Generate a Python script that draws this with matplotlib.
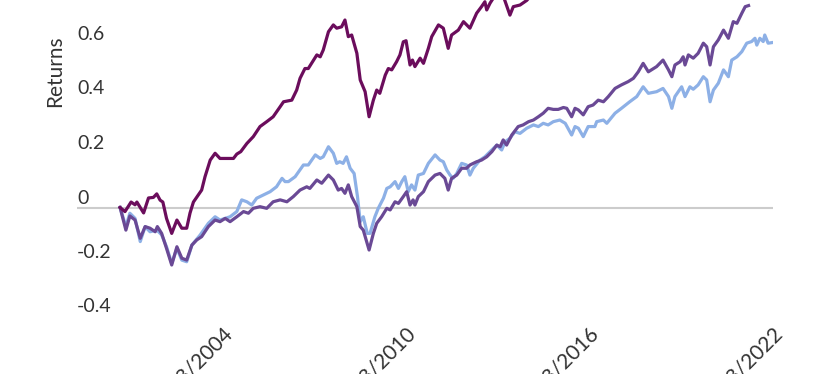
import matplotlib
matplotlib.use("Agg")
import matplotlib.pyplot as plt
import matplotlib.transforms as mtransforms

plt.rcParams['font.family'] = ['Lato', 'DejaVu Sans']

# ---- data (decimal years, cumulative returns) ----
years_a = [2000.72, 2000.88, 2001.08, 2001.21, 2001.27, 2001.49, 2001.65, 2001.81, 2001.92, 2002.03,
           2002.12, 2002.24, 2002.41, 2002.58, 2002.74, 2002.90, 2003.01, 2003.12, 2003.39, 2003.50,
           2003.67, 2003.83, 2003.99, 2004.43, 2004.54, 2004.67, 2004.87, 2005.08, 2005.30, 2005.52,
           2005.73, 2005.96, 2006.07, 2006.34, 2006.50, 2006.61, 2006.77, 2006.88, 2007.16, 2007.27,
           2007.37, 2007.54, 2007.70, 2007.81, 2007.97, 2008.08, 2008.19, 2008.30, 2008.47, 2008.58,
           2008.74, 2008.87, 2009.01, 2009.12, 2009.22, 2009.40, 2009.50, 2009.61, 2009.77, 2009.88,
           2009.99, 2010.08, 2010.21, 2010.29, 2010.37, 2010.54, 2010.65, 2010.81, 2010.92, 2011.14,
           2011.30, 2011.46, 2011.57, 2011.79, 2011.96, 2012.17, 2012.39, 2012.55, 2012.66, 2012.72,
           2012.83, 2013.06, 2013.25, 2013.48, 2013.59, 2013.81, 2014.03, 2014.50, 2015.50, 2016.50,
           2017.50, 2018.50, 2019.50, 2020.20, 2021.00, 2021.90]
returns_a = [0.0, -0.015, 0.02, 0.01, 0.02, -0.02, 0.035, 0.037, 0.05, 0.027,
             0.02, -0.04, -0.095, -0.046, -0.076, -0.076, -0.02, 0.02, 0.064, 0.113,
             0.174, 0.199, 0.18, 0.18, 0.196, 0.205, 0.235, 0.26, 0.297, 0.315,
             0.333, 0.37, 0.388, 0.394, 0.431, 0.474, 0.51, 0.51, 0.56, 0.553,
             0.578, 0.645, 0.67, 0.658, 0.663, 0.688, 0.627, 0.633, 0.566, 0.468,
             0.425, 0.333, 0.394, 0.431, 0.419, 0.486, 0.51, 0.505, 0.535, 0.56,
             0.608, 0.612, 0.523, 0.541, 0.517, 0.548, 0.529, 0.584, 0.627, 0.67,
             0.658, 0.584, 0.633, 0.651, 0.682, 0.658, 0.713, 0.737, 0.755, 0.725,
             0.75, 0.79, 0.78, 0.706, 0.737, 0.743, 0.76, 0.82, 0.86, 0.92,
             1.0, 1.03, 1.12, 1.02, 1.25, 1.35]

years_b = [2000.72, 2000.91, 2001.04, 2001.21, 2001.38, 2001.54, 2001.70, 2001.92, 2002.08, 2002.24,
           2002.41, 2002.58, 2002.74, 2002.90, 2003.07, 2003.34, 2003.61, 2003.83, 2003.99, 2004.32,
           2004.54, 2004.70, 2004.87, 2005.03, 2005.19, 2005.41, 2005.63, 2005.84, 2006.02, 2006.12,
           2006.23, 2006.45, 2006.72, 2006.88, 2007.11, 2007.27, 2007.37, 2007.54, 2007.70, 2007.81,
           2007.91, 2008.02, 2008.13, 2008.25, 2008.38, 2008.49, 2008.58, 2008.68, 2008.81, 2008.90,
           2009.06, 2009.17, 2009.34, 2009.45, 2009.56, 2009.72, 2009.83, 2009.94, 2010.04, 2010.15,
           2010.26, 2010.37, 2010.48, 2010.65, 2010.81, 2011.03, 2011.19, 2011.30, 2011.41, 2011.52,
           2011.62, 2011.74, 2011.90, 2012.06, 2012.17, 2012.28, 2012.50, 2012.66, 2012.83, 2013.05,
           2013.21, 2013.32, 2013.48, 2013.64, 2013.81, 2014.03, 2014.25, 2014.41, 2014.57, 2014.73,
           2014.90, 2015.11, 2015.29, 2015.50, 2015.61, 2015.72, 2015.88, 2016.04, 2016.26, 2016.32,
           2016.54, 2016.65, 2016.92, 2017.13, 2017.40, 2017.63, 2017.84, 2018.01, 2018.28, 2018.49,
           2018.67, 2018.78, 2018.88, 2019.10, 2019.21, 2019.37, 2019.48, 2019.64, 2019.81, 2019.92,
           2020.03, 2020.14, 2020.30, 2020.47, 2020.63, 2020.74, 2020.91, 2021.07, 2021.23, 2021.39,
           2021.50, 2021.56, 2021.66, 2021.77, 2021.82, 2021.93, 2022.05]
returns_b = [0.0, -0.07, -0.021, -0.04, -0.125, -0.07, -0.089, -0.083, -0.1, -0.144,
             -0.205, -0.15, -0.193, -0.199, -0.138, -0.101, -0.058, -0.034, -0.046, -0.034,
             -0.015, 0.028, 0.021, 0.009, 0.034, 0.046, 0.058, 0.076, 0.107, 0.095,
             0.095, 0.113, 0.156, 0.156, 0.193, 0.18, 0.186, 0.223, 0.199, 0.162,
             0.168, 0.162, 0.186, 0.144, 0.125, 0.04, -0.052, -0.034, -0.095, -0.095,
             -0.034, -0.003, 0.034, 0.07, 0.076, 0.095, 0.07, 0.095, 0.113, 0.058,
             0.083, 0.064, 0.119, 0.125, 0.162, 0.193, 0.174, 0.168, 0.138, 0.119,
             0.107, 0.125, 0.162, 0.156, 0.119, 0.144, 0.174, 0.186, 0.205, 0.229,
             0.211, 0.241, 0.254, 0.278, 0.272, 0.291, 0.303, 0.297, 0.309, 0.303,
             0.315, 0.321, 0.309, 0.266, 0.297, 0.291, 0.26, 0.297, 0.297, 0.315,
             0.321, 0.309, 0.346, 0.364, 0.388, 0.407, 0.443, 0.419, 0.425, 0.437,
             0.407, 0.364, 0.407, 0.443, 0.407, 0.443, 0.434, 0.45, 0.48, 0.468,
             0.388, 0.431, 0.456, 0.505, 0.48, 0.541, 0.553, 0.572, 0.603, 0.609,
             0.621, 0.596, 0.621, 0.609, 0.633, 0.603, 0.605]

years_c = [2000.72, 2000.91, 2001.04, 2001.21, 2001.38, 2001.54, 2001.70, 2001.87, 2001.94, 2002.08,
           2002.24, 2002.41, 2002.58, 2002.74, 2002.90, 2003.07, 2003.23, 2003.39, 2003.61, 2003.83,
           2003.99, 2004.16, 2004.32, 2004.54, 2004.76, 2004.92, 2005.08, 2005.30, 2005.52, 2005.73,
           2005.96, 2006.18, 2006.39, 2006.61, 2006.83, 2006.93, 2007.16, 2007.32, 2007.54, 2007.70,
           2007.86, 2007.97, 2008.08, 2008.19, 2008.30, 2008.47, 2008.58, 2008.68, 2008.87, 2009.01,
           2009.12, 2009.28, 2009.45, 2009.56, 2009.72, 2009.83, 2009.99, 2010.10, 2010.21, 2010.31,
           2010.37, 2010.48, 2010.65, 2010.81, 2011.03, 2011.19, 2011.35, 2011.46, 2011.57, 2011.74,
           2011.90, 2012.06, 2012.17, 2012.39, 2012.55, 2012.72, 2012.89, 2013.05, 2013.16, 2013.26,
           2013.37, 2013.54, 2013.75, 2013.91, 2014.09, 2014.25, 2014.41, 2014.57, 2014.73, 2014.90,
           2015.06, 2015.23, 2015.34, 2015.50, 2015.61, 2015.72, 2015.88, 2016.04, 2016.20, 2016.37,
           2016.54, 2016.70, 2016.92, 2017.13, 2017.35, 2017.52, 2017.68, 2017.84, 2018.01, 2018.28,
           2018.49, 2018.67, 2018.78, 2018.88, 2019.05, 2019.15, 2019.21, 2019.32, 2019.48, 2019.64,
           2019.81, 2019.92, 2020.03, 2020.14, 2020.30, 2020.47, 2020.63, 2020.79, 2020.91, 2021.07,
           2021.18, 2021.29]
returns_c = [0.0, -0.083, -0.031, -0.046, -0.113, -0.07, -0.076, -0.089, -0.07, -0.095,
             -0.15, -0.211, -0.144, -0.186, -0.193, -0.138, -0.119, -0.107, -0.07, -0.046,
             -0.052, -0.04, -0.052, -0.034, -0.015, -0.021, -0.003, 0.003, -0.003, 0.021,
             0.028, 0.021, 0.04, 0.064, 0.076, 0.07, 0.101, 0.089, 0.119, 0.101,
             0.064, 0.07, 0.052, 0.083, 0.04, 0.003, -0.07, -0.083, -0.156, -0.095,
             -0.058, -0.034, -0.003, -0.009, 0.021, 0.015, 0.04, 0.058, 0.009, 0.028,
             0.009, 0.04, 0.058, 0.095, 0.119, 0.125, 0.107, 0.064, 0.107, 0.119,
             0.144, 0.144, 0.156, 0.168, 0.174, 0.186, 0.205, 0.229, 0.223, 0.248,
             0.229, 0.266, 0.297, 0.303, 0.315, 0.321, 0.333, 0.346, 0.364, 0.36,
             0.36, 0.367, 0.364, 0.333, 0.364, 0.358, 0.34, 0.37, 0.376, 0.394,
             0.388, 0.407, 0.437, 0.45, 0.462, 0.474, 0.498, 0.529, 0.498, 0.517,
             0.541, 0.505, 0.48, 0.523, 0.535, 0.553, 0.523, 0.56, 0.548, 0.566,
             0.603, 0.59, 0.523, 0.59, 0.615, 0.651, 0.621, 0.682, 0.676, 0.713,
             0.737, 0.741]

x_ticks = [2004.06, 2010.06, 2016.06, 2022.06]
x_tick_labels = ["01/23/2004", "01/23/2010", "01/23/2016", "01/23/2022"]
y_ticks = [-0.4, -0.2, 0.0, 0.2, 0.4, 0.6]
y_tick_labels = ["-0.4", "-0.2", "0", "0.2", "0.4", "0.6"]

color_a = "#6b0d5c"
color_b = "#8db0e6"
color_c = "#6a4995"
text_color = "#333333"

W, H = 827, 374
fig = plt.figure(figsize=(W / 100, H / 100), dpi=100)
left = 77 / W
width = (773 - 77) / W
bottom = (H - 316.5) / H
top = (H + 174.0) / H
ax = fig.add_axes([left, bottom, width, top - bottom])
ax.set_xlim(1999.31, 2022.09)
ax.set_ylim(-0.4, 1.4)

ax.axhline(0, color="#cccccc", lw=1.5, zorder=1)
ax.plot(years_b, returns_b, color=color_b, lw=2.3, zorder=2, solid_joinstyle="round")
ax.plot(years_c, returns_c, color=color_c, lw=2.3, zorder=3, solid_joinstyle="round")
ax.plot(years_a, returns_a, color=color_a, lw=2.3, zorder=4, solid_joinstyle="round")

for s in ax.spines.values():
    s.set_visible(False)

ax.set_yticks([])
trans = mtransforms.blended_transform_factory(ax.transAxes, ax.transData)
offset = mtransforms.ScaledTranslation(0, 4.0 / 100, fig.dpi_scale_trans)
for v, lbl in zip(y_ticks, y_tick_labels):
    ax.text(0.0, v, lbl, transform=trans + offset, ha="left", va="baseline",
            fontsize=14, color=text_color)

ax.set_xticks(x_ticks)
ax.set_xticklabels(x_tick_labels, rotation=45, ha="right", va="top",
                   rotation_mode="anchor", fontsize=15, color=text_color)
ax.tick_params(axis="x", length=0, pad=5)

ax.set_ylabel("Returns", fontsize=15, color=text_color, va="center", ha="center")
ax.yaxis.set_label_coords((55 - 77) / (773 - 77), 0.5)

fig.savefig("out.png", dpi=100)
